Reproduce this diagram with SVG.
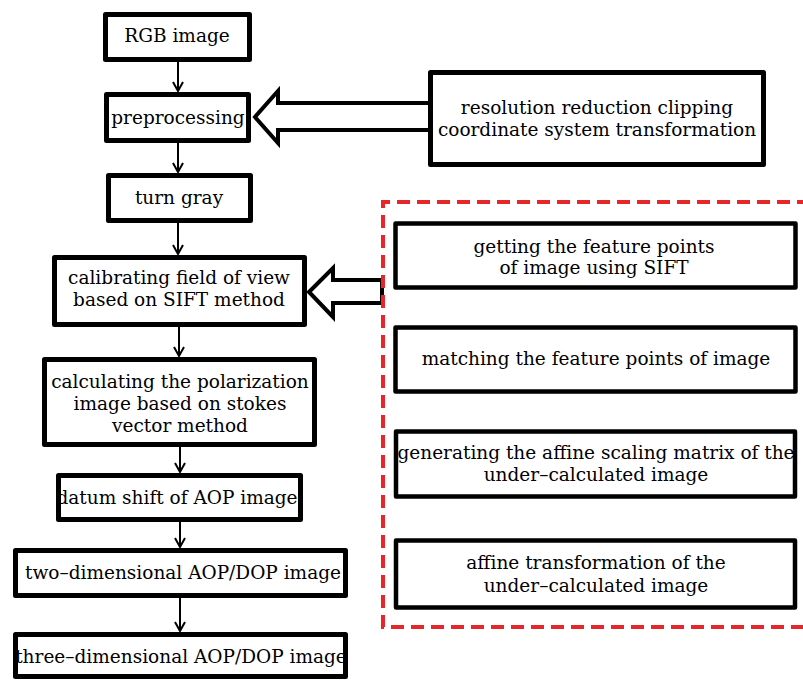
<svg xmlns="http://www.w3.org/2000/svg" width="803" height="680" viewBox="0 0 803 680">
<style>
.box{fill:#fff;stroke:#000;stroke-width:5;stroke-linejoin:round}
.rbox{fill:#fff;stroke:#000;stroke-width:4.5;stroke-linejoin:round}
.t{font-family:"DejaVu Serif","Liberation Serif",serif;font-size:18.5px;fill:#000;text-anchor:middle}
.c{stroke:#000;stroke-width:2;fill:none;marker-end:url(#ah)}
.hollow{fill:#fff;stroke:#000;stroke-width:4;stroke-linejoin:miter}
.dash{fill:none;stroke:#e8262a;stroke-width:4;stroke-dasharray:13 7}
</style>
<defs>
<marker id="ah" markerWidth="12" markerHeight="12" refX="10" refY="6" orient="auto" markerUnits="userSpaceOnUse">
<path d="M1,1 L10,6 L1,11" fill="none" stroke="#000" stroke-width="2"/>
</marker>
</defs>
<rect width="803" height="680" fill="#fff"/>
<g id="connectors">
<line class="c" x1="178" y1="62" x2="178" y2="91"/>
<line class="c" x1="178" y1="143" x2="178" y2="172"/>
<line class="c" x1="178" y1="223" x2="178" y2="254"/>
<line class="c" x1="179" y1="327" x2="179" y2="356"/>
<line class="c" x1="180" y1="447" x2="180" y2="472"/>
<line class="c" x1="180" y1="522" x2="180" y2="547"/>
<line class="c" x1="180" y1="598" x2="180" y2="631"/>
<polygon class="hollow" points="255,117 278,91 278,103 430,103 430,130 278,130 278,143"/>
<polygon class="hollow" points="309,292 333,268 333,280 382,280 382,303 333,303 333,317"/>
</g>
<g id="rgb"><rect class="box" x="105.5" y="14.5" width="144" height="45"/><text class="t" x="177" y="42">RGB image</text></g>
<g id="preprocessing"><rect class="box" x="106.5" y="94.5" width="142" height="46"/><text class="t" x="178" y="124">preprocessing</text></g>
<g id="turngray"><rect class="box" x="108.5" y="175.5" width="142" height="45"/><text class="t" x="179" y="204">turn gray</text></g>
<g id="calibrating"><rect class="box" x="54.5" y="257.5" width="250" height="67"/><text class="t" x="179" y="284">calibrating field of view</text><text class="t" x="179" y="306">based on SIFT method</text></g>
<g id="calculating"><rect class="box" x="44.5" y="359.5" width="270" height="85"/><text class="t" x="180" y="388">calculating the polarization</text><text class="t" x="180" y="410">image based on stokes</text><text class="t" x="180" y="432">vector method</text></g>
<g id="datum"><rect class="box" x="58.5" y="475.5" width="242" height="44"/><text class="t" x="177" y="504">datum shift of AOP image</text></g>
<g id="twodim"><rect class="box" x="15.5" y="550.5" width="330" height="45"/><text class="t" x="183" y="579">two–dimensional AOP/DOP image</text></g>
<g id="threedim"><rect class="box" x="15.5" y="634.5" width="330" height="42"/><text class="t" x="181" y="663">three–dimensional AOP/DOP image</text></g>
<g id="resolution"><rect class="box" x="430.5" y="72.5" width="333" height="92"/><text class="t" x="597" y="114">resolution reduction clipping</text><text class="t" x="597" y="136">coordinate system transformation</text></g>
<g id="siftgroup"><path class="dash" d="M810,202 H383 V627 H810"/></g>
<g id="getting"><rect class="rbox" x="395.5" y="223.5" width="400" height="64"/><text class="t" x="594" y="253">getting the feature points</text><text class="t" x="594" y="274">of image using SIFT</text></g>
<g id="matching"><rect class="rbox" x="395.5" y="327.5" width="400" height="64"/><text class="t" x="596" y="365">matching the feature points of image</text></g>
<g id="generating"><rect class="rbox" x="396" y="431.5" width="399" height="65"/><text class="t" x="596" y="459">generating the affine scaling matrix of the</text><text class="t" x="596" y="481">under–calculated image</text></g>
<g id="affine"><rect class="rbox" x="396" y="540.5" width="399" height="67"/><text class="t" x="596" y="569">affine transformation of the</text><text class="t" x="596" y="592">under–calculated image</text></g>
</svg>
